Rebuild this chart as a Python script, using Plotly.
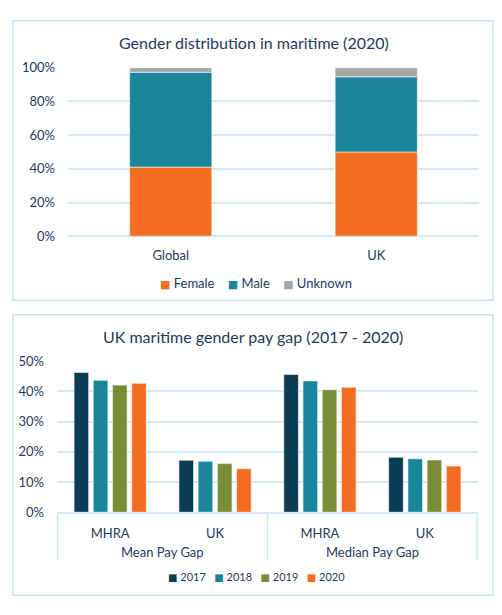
import plotly.graph_objects as go

# Top chart data
regions = ["Global", "UK"]
female = [0.41, 0.50]
male = [0.563, 0.446]
unknown = [0.027, 0.054]
top_series = ["Female", "Male", "Unknown"]

# Bottom chart data
gap_groups = ["Mean Pay Gap", "Mean Pay Gap", "Median Pay Gap", "Median Pay Gap"]
gap_subs = ["MHRA", "UK", "MHRA", "UK"]
years = ["2017", "2018", "2019", "2020"]
gap_values = {
    "2017": [46.3, 17.2, 45.6, 18.2],
    "2018": [43.7, 16.9, 43.5, 17.7],
    "2019": [42.1, 16.1, 40.6, 17.3],
    "2020": [42.7, 14.4, 41.4, 15.3],
}

ORANGE = "#F26D21"
TEAL = "#1A8699"
GRAY = "#A5A5A5"
NAVY = "#0B3C55"
OLIVE = "#7A8C36"
TXT = "#1F3A60"
GRID = "#D3EAF6"
FRAME = "#C8E4F4"
FONT = "Lato"

W, H = 502, 615

def px(x):
    return x / W

def py(y):
    return 1 - y / H

fig = go.Figure()

top_colors = [ORANGE, TEAL, GRAY]
for name, vals, col in zip(top_series, [female, male, unknown], top_colors):
    fig.add_trace(go.Bar(x=regions, y=vals, name=name, showlegend=False,
                         marker=dict(color=col, line=dict(width=0.8, color="rgba(255,255,255,0.7)")),
                         xaxis="x", yaxis="y", width=0.4))

cat_keys = [g + "|" + s for g, s in zip(gap_groups, gap_subs)]
year_colors = [NAVY, TEAL, OLIVE, ORANGE]
for yr, col in zip(years, year_colors):
    fig.add_trace(go.Bar(x=cat_keys, y=gap_values[yr], name=yr, showlegend=False,
                         marker=dict(color=col, line=dict(width=0.8, color="rgba(255,255,255,0.7)")),
                         xaxis="x2", yaxis="y2", offsetgroup=yr))

# Group labels and dividers for the bottom chart's two-level axis
group_names = []
for g in gap_groups:
    if g not in group_names:
        group_names.append(g)
annotations = []
shapes = []
boundaries = [-0.5]
for g in group_names:
    idx = [i for i, gg in enumerate(gap_groups) if gg == g]
    annotations.append(dict(text=g, xref="x2", yref="paper", x=(idx[0] + idx[-1]) / 2, y=py(559),
                            showarrow=False, font=dict(size=13, color=TXT), xanchor="center", yanchor="middle"))
    boundaries.append(idx[-1] + 0.5)
for b in boundaries:
    shapes.append(dict(type="line", xref="x2", yref="paper", x0=b, x1=b, y0=py(517.7), y1=py(567),
                       line=dict(color=GRID, width=1.5)))

# Legends built from series names and colours
def legend_text(names, colors, sq_size, gap):
    parts = []
    for nm, c in zip(names, colors):
        parts.append(f"<span style='color:{c};font-size:{sq_size}px;font-family:DejaVu Sans'>■</span> {nm}")
    return gap.join(parts)

annotations.append(dict(text=legend_text(top_series, top_colors, 11, "&nbsp;&nbsp;&nbsp;&nbsp;"),
                        xref="paper", yref="paper", x=px(256), y=py(282), showarrow=False,
                        font=dict(size=13, color=TXT), xanchor="center", yanchor="middle"))
annotations.append(dict(text=legend_text(years, year_colors, 10, "&nbsp;&nbsp;&nbsp;"),
                        xref="paper", yref="paper", x=px(256), y=py(584), showarrow=False,
                        font=dict(size=11, color=TXT), xanchor="center", yanchor="middle"))

annotations += [
    dict(text="Gender distribution in maritime (2020)", xref="paper", yref="paper", x=px(254), y=py(35),
         showarrow=False, font=dict(size=16, color=TXT), xanchor="center", yanchor="middle"),
    dict(text="UK maritime gender pay gap (2017 - 2020)", xref="paper", yref="paper", x=px(253), y=py(337),
         showarrow=False, font=dict(size=16, color=TXT), xanchor="center", yanchor="middle"),
]

shapes += [
    dict(type="rect", xref="paper", yref="paper", x0=px(13), x1=px(493), y0=py(300), y1=py(13),
         line=dict(color=FRAME, width=1.5), fillcolor="rgba(0,0,0,0)", layer="below"),
    dict(type="rect", xref="paper", yref="paper", x0=px(13), x1=px(493), y0=py(603), y1=py(315),
         line=dict(color=FRAME, width=1.5), fillcolor="rgba(0,0,0,0)", layer="below"),
]

fig.update_layout(
    width=W, height=H,
    margin=dict(l=0, r=0, t=0, b=0),
    paper_bgcolor="white", plot_bgcolor="white",
    font=dict(family=FONT, color=TXT, size=12),
    barmode="relative",
    bargap=0.267, bargroupgap=0.24,
    showlegend=False,
    xaxis=dict(domain=[px(68), px(479)], anchor="y", showgrid=False, showline=False, ticks="",
               tickfont=dict(size=13, color=TXT), ticklabelstandoff=10),
    yaxis=dict(domain=[py(234.3), py(61.3)], anchor="x", range=[0, 1], tickformat=".0%", dtick=0.2,
               gridcolor=GRID, gridwidth=1.5, zeroline=True, zerolinecolor=GRID, zerolinewidth=1.5,
               tickfont=dict(size=13, color=TXT), ticks="", ticklabelstandoff=12),
    xaxis2=dict(domain=[px(57), px(478)], anchor="y2", type="category", showgrid=False,
                showline=True, linecolor=GRID, linewidth=1.5, ticks="",
                tickvals=cat_keys, ticktext=gap_subs,
                tickfont=dict(size=13, color=TXT), ticklabelstandoff=8),
    yaxis2=dict(domain=[py(517.7), py(362.7)], anchor="x2", range=[0, 50], dtick=10, ticksuffix="%",
                gridcolor=GRID, gridwidth=1.5, zeroline=False, showline=False,
                tickfont=dict(size=13, color=TXT), ticks="", ticklabelstandoff=12),
    shapes=shapes,
    annotations=annotations,
)

post = (
    "document.documentElement.style.overflow='hidden';"
    "document.body.style.margin='0';document.body.style.padding='0';document.body.style.overflow='hidden';"
    "var d=document.getElementsByClassName('plotly-graph-div')[0];"
    "d.style.position='fixed';d.style.top='0px';d.style.left='0px';"
)
fig.write_html("out.html", post_script=post, config={"displayModeBar": False})
